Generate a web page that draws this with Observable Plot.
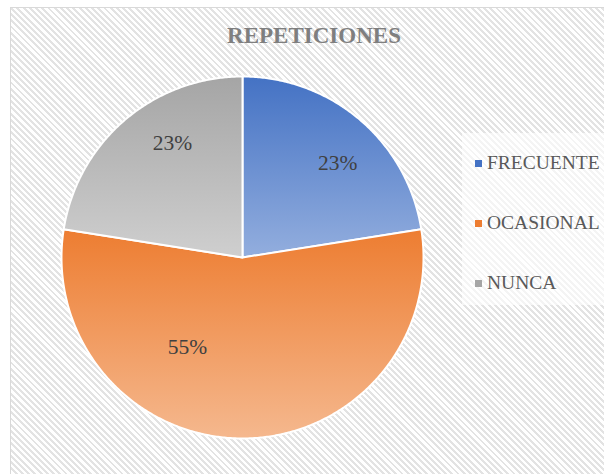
<!DOCTYPE html>
<html>
<head>
<meta charset="utf-8">
<script src="https://cdn.jsdelivr.net/npm/d3@7"></script>
<script src="https://cdn.jsdelivr.net/npm/@observablehq/plot@0.6"></script>
<style>
  html, body { margin: 0; padding: 0; background: #fff; }
  #wrap { position: relative; width: 604px; height: 474px; overflow: hidden; }
  #bg { position: absolute; left: 10px; top: 7px; width: 620px; height: 490px;
        border: 1px solid #d9d9d9;
        background: repeating-linear-gradient(45deg, #ffffff 0px, #ffffff 2.4px, #e3e3e3 2.4px, #e3e3e3 4.4px); }
  #legend { position: absolute; left: 462px; top: 133px; width: 150px; height: 172px;
            background: rgba(255,255,255,0.6); }
  .item { height: 60px; display: flex; align-items: center; padding-left: 13px;
          font-family: "Liberation Serif", serif; font-size: 19.5px; color: #595959; }
  .sw { width: 7px; height: 7px; margin-right: 5px; flex: none; }
  #chart { position: absolute; left: 0; top: 0; }
  #chart svg text { font-family: "Liberation Serif", serif; }
</style>
</head>
<body>
<div id="wrap">
  <div id="bg"></div>
  <div id="legend"></div>
  <div id="chart"></div>
</div>
<script>
const title = "REPETICIONES";
const categories = ["FRECUENTE", "OCASIONAL", "NUNCA"];
const values = [22.5, 55, 22.5];
const pctLabels = ["23%", "55%", "23%"];
const baseColors = ["#4472C4", "#ED7D31", "#A5A5A5"];
const lightColors = ["#93AEDE", "#F5B88E", "#CFCFCF"];

// layout (label placement inside each slice: fraction of angular span, fraction of radius)
const labelFrac = [0.56, 0.66, 0.61];
const labelRad = [0.74, 0.58, 0.74];

const arcs = d3.pie().sort(null).value(d => d)(values);

const slices = arcs.map((a, i) => {
  const pts = [{x: 0, y: 0}];
  const n = Math.max(2, Math.ceil((a.endAngle - a.startAngle) / (Math.PI / 360)));
  for (let k = 0; k <= n; k++) {
    const t = a.startAngle + (a.endAngle - a.startAngle) * k / n;
    pts.push({x: Math.sin(t), y: Math.cos(t)});
  }
  return pts;
});

const labelData = arcs.map((a, i) => {
  const t = a.startAngle + (a.endAngle - a.startAngle) * labelFrac[i];
  return {x: labelRad[i] * Math.sin(t), y: labelRad[i] * Math.cos(t), text: pctLabels[i]};
});

const serif = "'Liberation Serif', serif";
const marks = slices.map((pts, i) =>
  Plot.line(pts, {x: "x", y: "y", curve: "linear-closed", fill: `url(#grad${i})`, stroke: "#ffffff", strokeWidth: 2, strokeLinejoin: "round"})
);
marks.push(Plot.text(labelData, {x: "x", y: "y", text: "text", fontSize: 21.5, fill: "#404040", fontFamily: serif}));
marks.push(Plot.text([title], {frameAnchor: "top", lineAnchor: "top", dx: 11.5, dy: 26, fontSize: 23, fontWeight: "bold", fill: "#7f7f7f", fontFamily: serif}));

const svg = Plot.plot({
  width: 604,
  height: 474,
  margin: 0,
  style: {background: "transparent", overflow: "visible", fontFamily: serif},
  x: {domain: [-1, 1], range: [61, 423], axis: null},
  y: {domain: [-1, 1], range: [438, 76], axis: null},
  marks
});

const defs = d3.select(svg).insert("defs", ":first-child");
baseColors.forEach((c, i) => {
  const g = defs.append("linearGradient").attr("id", `grad${i}`).attr("x1", 0).attr("y1", 0).attr("x2", 0).attr("y2", 1);
  g.append("stop").attr("offset", "0%").attr("stop-color", c);
  g.append("stop").attr("offset", "100%").attr("stop-color", lightColors[i]);
});

document.getElementById("chart").appendChild(svg);

const legend = d3.select("#legend");
categories.forEach((c, i) => {
  const it = legend.append("div").attr("class", "item");
  it.append("div").attr("class", "sw").style("background", baseColors[i]);
  it.append("span").text(c);
});
</script>
</body>
</html>
